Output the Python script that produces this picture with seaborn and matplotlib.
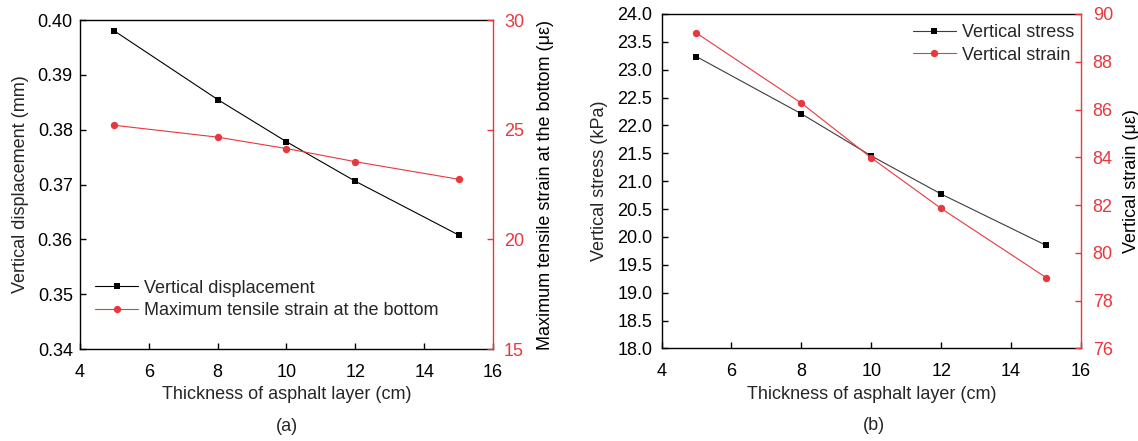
import matplotlib
matplotlib.use("Agg")
import matplotlib.pyplot as plt
import seaborn as sns
import pandas as pd
from matplotlib.lines import Line2D

sns.set_style("white")
plt.rcParams["font.family"] = ["Liberation Sans", "DejaVu Sans"]
plt.rcParams["xtick.direction"] = "in"
plt.rcParams["ytick.direction"] = "in"

RED = "#E8383D"
BLACK = "#000000"
GREY = "#3c3c3c"

# Asphalt layer thickness (cm)
thickness = [5, 8, 10, 12, 15]

# Panel (a)
vertical_displacement = [0.398, 0.3855, 0.3778, 0.3706, 0.3608]   # mm
max_tensile_strain = [25.2, 24.66, 24.14, 23.54, 22.74]            # με

# Panel (b)
vertical_stress = [23.235, 22.21, 21.455, 20.77, 19.85]            # kPa
vertical_strain = [89.2, 86.27, 83.98, 81.86, 78.97]               # με

x_ticks = [4, 6, 8, 10, 12, 14, 16]

df_a = pd.DataFrame({"t": thickness, "disp": vertical_displacement, "strain": max_tensile_strain})
df_b = pd.DataFrame({"t": thickness, "stress": vertical_stress, "strain": vertical_strain})

FS = 13
SQ = 4.8   # square marker size (pt)
CI = 5.3   # circle marker size (pt)
LW = 0.8

fig = plt.figure(figsize=(11.38, 4.41), dpi=100)
ax1 = fig.add_axes([0.0703, 0.2086, 0.3629, 0.746])
ax2 = fig.add_axes([0.5813, 0.2098, 0.3686, 0.7585])


def style_pair(ax, axr, left_pad, right_pad, left_lp, right_lp):
    for sp in ax.spines.values():
        sp.set_color(BLACK)
        sp.set_linewidth(1.0)
    axr.spines["right"].set_color(RED)
    axr.spines["right"].set_linewidth(1.0)
    for s in ("left", "top", "bottom"):
        axr.spines[s].set_visible(False)
    ax.spines["right"].set_visible(False)
    ax.tick_params(axis="x", labelsize=FS, length=4.5, width=1, colors=BLACK,
                   bottom=True, top=False, pad=10.5)
    ax.tick_params(axis="y", labelsize=FS, length=4.5, width=1, colors=BLACK,
                   left=True, right=False, pad=left_pad)
    axr.tick_params(axis="y", labelsize=FS, length=4.5, width=1, colors=RED,
                    right=True, pad=right_pad)
    ax.set_xlim(4, 16)
    ax.set_xticks(x_ticks)
    ax.set_xlabel("Thickness of asphalt layer (cm)", fontsize=FS, labelpad=4)
    ax.yaxis.labelpad = left_lp
    axr.yaxis.labelpad = right_lp


# ---- panel (a)
sns.lineplot(data=df_a, x="t", y="disp", ax=ax1, color=BLACK, marker="s",
             markersize=SQ, linewidth=LW, markeredgewidth=0)
ax1r = ax1.twinx()
sns.lineplot(data=df_a, x="t", y="strain", ax=ax1r, color=RED, marker="o",
             markersize=CI, linewidth=LW, markeredgewidth=0)
ax1.set_ylim(0.34, 0.40)
ax1.set_yticks([0.34, 0.35, 0.36, 0.37, 0.38, 0.39, 0.40])
ax1.set_yticklabels([f"{v:.2f}" for v in ax1.get_yticks()])
ax1r.set_ylim(15, 30)
ax1r.set_yticks([15, 20, 25, 30])
ax1.set_ylabel("Vertical displacement (mm)", fontsize=FS)
ax1r.set_ylabel("Maximum tensile strain at the bottom (με)", fontsize=FS, color=BLACK)
style_pair(ax1, ax1r, left_pad=5.2, right_pad=8, left_lp=6, right_lp=9)
handles_a = [
    Line2D([], [], color=BLACK, marker="s", markersize=SQ, lw=LW, markeredgewidth=0),
    Line2D([], [], color=RED, marker="o", markersize=CI, lw=LW, markeredgewidth=0),
]
ax1.legend(handles_a, ["Vertical displacement", "Maximum tensile strain at the bottom"],
           loc="center left", bbox_to_anchor=(0.019, 0.151), borderaxespad=0,
           frameon=False, fontsize=FS, handlelength=2.4, handletextpad=0.3,
           labelspacing=0.3)

# ---- panel (b)
sns.lineplot(data=df_b, x="t", y="stress", ax=ax2, color=GREY, marker="s",
             markersize=SQ, linewidth=LW, markeredgewidth=0,
             markerfacecolor=BLACK)
ax2r = ax2.twinx()
sns.lineplot(data=df_b, x="t", y="strain", ax=ax2r, color=RED, marker="o",
             markersize=CI, linewidth=LW, markeredgewidth=0)
ax2.set_ylim(18, 24)
ax2.set_yticks([18 + 0.5 * i for i in range(13)])
ax2.set_yticklabels([f"{18 + 0.5 * i:.1f}" for i in range(13)])
ax2r.set_ylim(76, 90)
ax2r.set_yticks([76, 78, 80, 82, 84, 86, 88, 90])
ax2.set_ylabel("Vertical stress (kPa)", fontsize=FS)
ax2r.set_ylabel("Vertical strain (με)", fontsize=FS, color=BLACK)
style_pair(ax2, ax2r, left_pad=6.5, right_pad=8.4, left_lp=6.5, right_lp=7)
handles_b = [
    Line2D([], [], color=GREY, marker="s", markersize=SQ, lw=LW,
           markeredgewidth=0, markerfacecolor=BLACK),
    Line2D([], [], color=RED, marker="o", markersize=CI, lw=LW, markeredgewidth=0),
]
ax2.legend(handles_b, ["Vertical stress", "Vertical strain"], loc="center right",
           bbox_to_anchor=(1.0, 0.910), borderaxespad=0, frameon=False, fontsize=FS,
           handlelength=2.4, handletextpad=0.3, labelspacing=0.3)

for ax in (ax1, ax2, ax1r, ax2r):
    ax.grid(False)

fig.text(0.2518, 0.032, "(a)", ha="center", va="center", fontsize=FS)
fig.text(0.768, 0.036, "(b)", ha="center", va="center", fontsize=FS)

fig.savefig("out.png", dpi=100, facecolor="white")
